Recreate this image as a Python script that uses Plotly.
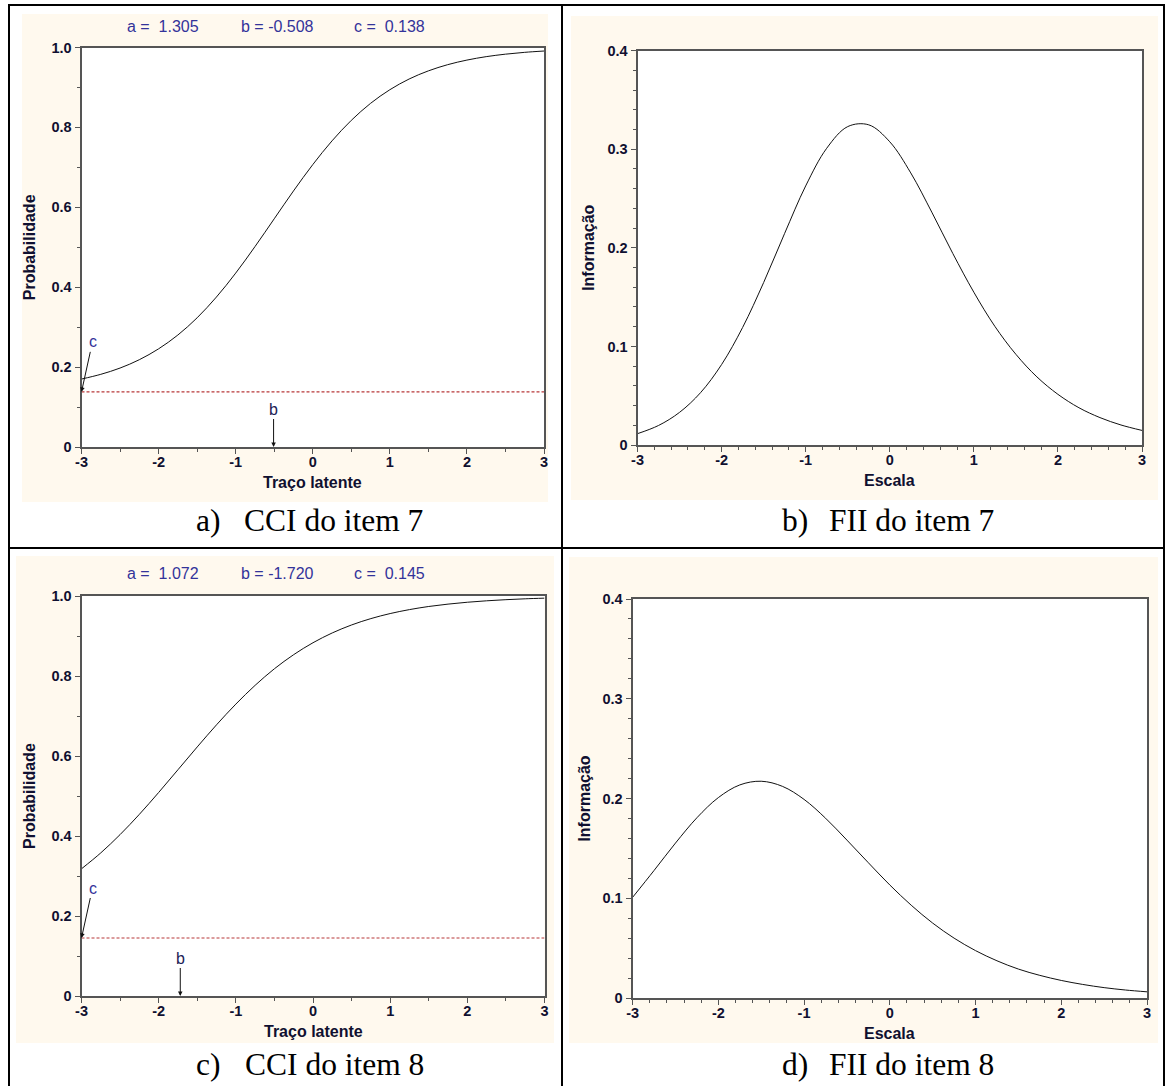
import plotly.graph_objects as go

W, H = 1165, 1086

# Latent trait grid
theta = [-3.0, -2.75, -2.5, -2.25, -2.0, -1.75, -1.5, -1.25, -1.0, -0.75, -0.5, -0.25,
         0.0, 0.25, 0.5, 0.75, 1.0, 1.25, 1.5, 1.75, 2.0, 2.25, 2.5, 2.75, 3.0]

# Item parameters (a, b, c)
item7_abc = [1.305, -0.508, 0.138]
item8_abc = [1.072, -1.720, 0.145]

# Item characteristic curves (probability)
prob_item7 = [0.1701, 0.1819, 0.1976, 0.2185, 0.2457, 0.2803, 0.3234, 0.3753, 0.4352,
              0.5015, 0.5712, 0.6409, 0.7068, 0.7663, 0.8176, 0.8602, 0.8943, 0.9211,
              0.9415, 0.9570, 0.9685, 0.9771, 0.9833, 0.9879, 0.9912]
prob_item8 = [0.3180, 0.3578, 0.4035, 0.4542, 0.5088, 0.5657, 0.6227, 0.6780, 0.7297,
              0.7767, 0.8181, 0.8534, 0.8832, 0.9077, 0.9276, 0.9435, 0.9561, 0.9660,
              0.9738, 0.9797, 0.9844, 0.9880, 0.9908, 0.9930, 0.9946]

# Item information functions
info_item7 = [0.0115, 0.0198, 0.0331, 0.0531, 0.0816, 0.1192, 0.1648, 0.2147, 0.2628,
              0.3010, 0.3230, 0.3248, 0.3076, 0.2760, 0.2362, 0.1943, 0.1550, 0.1204,
              0.0920, 0.0691, 0.0514, 0.0378, 0.0278, 0.0203, 0.0148]
info_item8 = [0.1009, 0.1278, 0.1553, 0.1807, 0.2009, 0.2136, 0.2173, 0.2121, 0.1991,
              0.1803, 0.1583, 0.1356, 0.1133, 0.0930, 0.0751, 0.0600, 0.0475, 0.0373,
              0.0290, 0.0227, 0.0176, 0.0136, 0.0104, 0.0080, 0.0062]

x_ticks = [-3, -2, -1, 0, 1, 2, 3]
prob_ticks = [0, 0.2, 0.4, 0.6, 0.8, 1.0]
prob_ticktext = ["0", "0.2", "0.4", "0.6", "0.8", "1.0"]
info_ticks = [0, 0.1, 0.2, 0.3, 0.4]
info_ticktext = ["0", "0.1", "0.2", "0.3", "0.4"]

captions = [("a)", "CCI do item 7"), ("b)", "FII do item 7"),
            ("c)", "CCI do item 8"), ("d)", "FII do item 8")]


def px(x):
    return x / W


def py(y):
    return 1 - y / H


CREAM = "#FFF9EE"
AXIS = "#555555"
TICKFONT = dict(family="Liberation Sans, Arial", size=14.5, color="#101030", weight="bold")
TITLEFONT = dict(family="Liberation Sans, Arial", size=16, color="#101030", weight="bold")
BLUE = "#33339A"
SERIF = dict(family="Liberation Serif, Times New Roman", size=31.5, color="#000000")
SANS = "Liberation Sans, Arial"

# plot areas in pixels: left, right, top, bottom
panels = [
    dict(box=(81.5, 544.0, 47.5, 447.0), kind="cci", abc=item7_abc, y=prob_item7),
    dict(box=(637.5, 1142.0, 50.7, 445.0), kind="fii", abc=item7_abc, y=info_item7),
    dict(box=(81.5, 544.5, 596.0, 996.0), kind="cci", abc=item8_abc, y=prob_item8),
    dict(box=(632.6, 1147.0, 599.0, 998.0), kind="fii", abc=item8_abc, y=info_item8),
]

# cream backgrounds: left, top, right, bottom (pixels)
cream_boxes = [(22, 14, 548, 502), (571, 16, 1158, 500),
               (16, 556, 554, 1043), (569, 557, 1158, 1043)]

fig = go.Figure()
layout = dict(
    width=W, height=H,
    margin=dict(l=0, r=0, t=0, b=0, pad=0, autoexpand=False),
    paper_bgcolor="white",
    plot_bgcolor="white",
    showlegend=False,
    shapes=[],
    annotations=[],
)

for (l, t, r, b) in cream_boxes:
    layout["shapes"].append(dict(type="rect", xref="paper", yref="paper",
                                 x0=px(l), x1=px(r), y0=py(b), y1=py(t),
                                 fillcolor=CREAM, line=dict(width=0), layer="below"))

# white plotting areas on top of the cream panels
for p in panels:
    l, r, t, b = p["box"]
    layout["shapes"].append(dict(type="rect", xref="paper", yref="paper",
                                 x0=px(l), x1=px(r), y0=py(b), y1=py(t),
                                 fillcolor="white", line=dict(width=0), layer="below"))

# table grid
grid_lines = [
    (9, 5, 1164, 5),        # top
    (9, 4, 9, 1086),        # left
    (1164, 4, 1164, 1086),  # right
    (562, 4, 562, 1086),    # middle vertical
    (9, 548, 1164, 548),    # middle horizontal
]
for (x0, y0, x1, y1) in grid_lines:
    layout["shapes"].append(dict(type="line", xref="paper", yref="paper",
                                 x0=px(x0), x1=px(x1), y0=py(y0), y1=py(y1),
                                 line=dict(color="black", width=2), layer="above"))

for i, p in enumerate(panels, start=1):
    l, r, t, b = p["box"]
    xa = "xaxis" if i == 1 else f"xaxis{i}"
    ya = "yaxis" if i == 1 else f"yaxis{i}"
    xr = "x" if i == 1 else f"x{i}"
    yr = "y" if i == 1 else f"y{i}"
    cci = p["kind"] == "cci"

    common = dict(showline=True, linecolor=AXIS, linewidth=2, mirror=True,
                  ticks="outside", ticklen=5, tickwidth=1, tickcolor=AXIS,
                  showgrid=False, zeroline=False, tickfont=TICKFONT, fixedrange=True,
                  automargin=False)
    layout[xa] = dict(common, domain=[px(l), px(r)], anchor=yr, range=[theta[0], theta[-1]],
                      tickvals=x_ticks, ticktext=[str(v) for v in x_ticks],
                      ticklabelstandoff=-4,
                      minor=dict(dtick=0.5 if cci else 0.2, ticks="outside", ticklen=3,
                                 tickcolor=AXIS, showgrid=False))
    if cci:
        layout[ya] = dict(common, domain=[py(b), py(t)], anchor=xr, range=[0, 1],
                          tickvals=prob_ticks, ticktext=prob_ticktext,
                          minor=dict(dtick=0.1, ticks="outside", ticklen=3,
                                     tickcolor=AXIS, showgrid=False))
    else:
        layout[ya] = dict(common, domain=[py(b), py(t)], anchor=xr, range=[0, 0.4],
                          tickvals=info_ticks, ticktext=info_ticktext,
                          minor=dict(dtick=0.02, ticks="outside", ticklen=3,
                                     tickcolor=AXIS, showgrid=False))

    # curve
    fig.add_trace(go.Scatter(x=theta, y=p["y"], mode="lines", xaxis=xr, yaxis=yr,
                             line=dict(color="#111111", width=1.0, shape="spline"),
                             hoverinfo="skip"))

    a, bb, c = p["abc"]
    cx = (l + r) / 2
    if cci:
        # lower asymptote
        fig.add_trace(go.Scatter(x=[theta[0], theta[-1]], y=[c, c], mode="lines",
                                 xaxis=xr, yaxis=yr,
                                 line=dict(color="#B8383A", width=1.1, dash="3px,2px"),
                                 hoverinfo="skip"))
        # parameter header
        head = [f"a = {a:6.3f}", f"b = {bb:6.3f}", f"c = {c:6.3f}"]
        top_y = 26.7 if i == 1 else 573.3
        for txt, hx in zip(head, [125, 238.6, 351.8]):
            layout["annotations"].append(dict(
                text=txt.replace(" ", "\u00a0"), xref="paper", yref="paper",
                x=px(hx), y=py(top_y), xanchor="left", yanchor="middle",
                showarrow=False, font=dict(family=SANS, size=16, color=BLUE)))
        # c and b markers
        layout["annotations"].append(dict(
            text="c", xref=xr, yref=yr, x=theta[0], y=c, ax=11, ay=-50,
            showarrow=True, arrowhead=2, arrowsize=0.9, arrowwidth=1, arrowcolor="#111111",
            font=dict(family=SANS, size=16, color=BLUE)))
        layout["annotations"].append(dict(
            text="b", xref=xr, yref=yr, x=bb, y=0, ax=0, ay=-38,
            showarrow=True, arrowhead=2, arrowsize=0.9, arrowwidth=1, arrowcolor="#111111",
            font=dict(family=SANS, size=16, color="#222255")))
        xtitle, ytitle = "Traço latente", "Probabilidade"
        xt_y = b + 35
        yt_x = 29
    else:
        xtitle, ytitle = "Escala", "Informação"
        xt_y = b + 35.5
        yt_x = l - 48.5

    layout["annotations"].append(dict(
        text=xtitle, xref="paper", yref="paper", x=px(cx), y=py(xt_y),
        xanchor="center", yanchor="middle", showarrow=False, font=TITLEFONT))
    layout["annotations"].append(dict(
        text=ytitle, xref="paper", yref="paper", x=px(yt_x), y=py((t + b) / 2),
        xanchor="center", yanchor="middle", textangle=-90, showarrow=False, font=TITLEFONT))

# captions under each panel
cap_pos = [(194, 242, 521), (780, 827, 521), (194, 243, 1064), (780, 827, 1064)]
for (lab, body), (lx, bx, cy) in zip(captions, cap_pos):
    layout["annotations"].append(dict(
        text=lab, xref="paper", yref="paper", x=px(lx), y=py(cy),
        xanchor="left", yanchor="middle", showarrow=False, font=SERIF))
    layout["annotations"].append(dict(
        text=body, xref="paper", yref="paper", x=px(bx), y=py(cy),
        xanchor="left", yanchor="middle", showarrow=False, font=SERIF))

fig.update_layout(**layout)
fig.write_html("out.html")
